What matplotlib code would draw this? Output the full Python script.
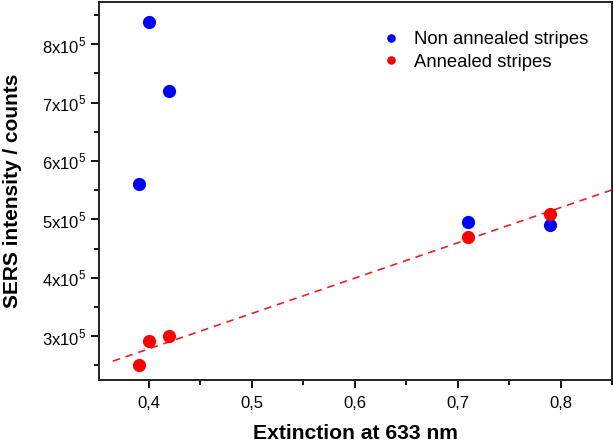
import matplotlib
matplotlib.use("Agg")
import matplotlib.pyplot as plt
import numpy as np
from matplotlib.ticker import FuncFormatter, MultipleLocator, AutoMinorLocator

plt.rcParams["font.family"] = ["Liberation Sans", "DejaVu Sans"]
plt.rcParams["mathtext.fontset"] = "custom"
plt.rcParams["mathtext.rm"] = "Liberation Sans"

# extinction at 633 nm vs SERS intensity (counts)
non_annealed_x = [0.40, 0.42, 0.39, 0.71, 0.79]
non_annealed_y = [8.38e5, 7.20e5, 5.60e5, 4.96e5, 4.90e5]
annealed_x = [0.39, 0.40, 0.42, 0.71, 0.79]
annealed_y = [2.50e5, 2.92e5, 3.00e5, 4.70e5, 5.10e5]
fit_range = (0.365, 0.85)

fig = plt.figure(figsize=(6.14, 4.43), dpi=100)
ax = fig.add_axes([0.1612, 0.1433, 0.8355, 0.8533])

# linear fit through the annealed stripes
slope, icept = np.polyfit(annealed_x, annealed_y, 1)
xf = np.array(fit_range)
ax.plot(xf, slope * xf + icept, ls=(0, (4.5, 3.5)), color="#e82020", lw=1.2)

ax.plot(non_annealed_x, non_annealed_y, "o", color="#0000ff", ms=9.5,
        label="Non annealed stripes", mec="none")
ax.plot(annealed_x, annealed_y, "o", color="#ff0000", ms=9.5,
        label="Annealed stripes", mec="none")

ax.set_xlim(0.3515, 0.85)
ax.set_ylim(2.26e5, 8.73e5)
ax.xaxis.set_major_locator(MultipleLocator(0.1))
ax.xaxis.set_minor_locator(AutoMinorLocator(2))
ax.yaxis.set_major_locator(MultipleLocator(1e5))
ax.yaxis.set_minor_locator(AutoMinorLocator(2))
ax.xaxis.set_major_formatter(FuncFormatter(lambda v, p: f"{v:.1f}".replace(".", ",")))
ax.yaxis.set_major_formatter(FuncFormatter(lambda v, p: f"{v / 1e5:.0f}x10$^{{5}}$"))

ax.tick_params(which="both", direction="out", labelsize=12, width=1.3)
ax.tick_params(which="major", length=6)
ax.tick_params(which="minor", length=3.5)
ax.tick_params(axis="x", pad=6)
for s in ax.spines.values():
    s.set_linewidth(1.4)
    s.set_color("#222222")

ax.set_xlabel("Extinction at 633 nm", fontsize=15.2, fontweight="bold", labelpad=9)
ax.set_ylabel("SERS intensity / counts", fontsize=15, fontweight="bold", labelpad=14)

ax.legend(loc="upper left", bbox_to_anchor=(0.5, 0.965), frameon=False,
          fontsize=13.3, markerscale=0.65, handletextpad=0.25,
          labelspacing=0.3, handlelength=2.0)

fig.savefig("out.png", dpi=100)
